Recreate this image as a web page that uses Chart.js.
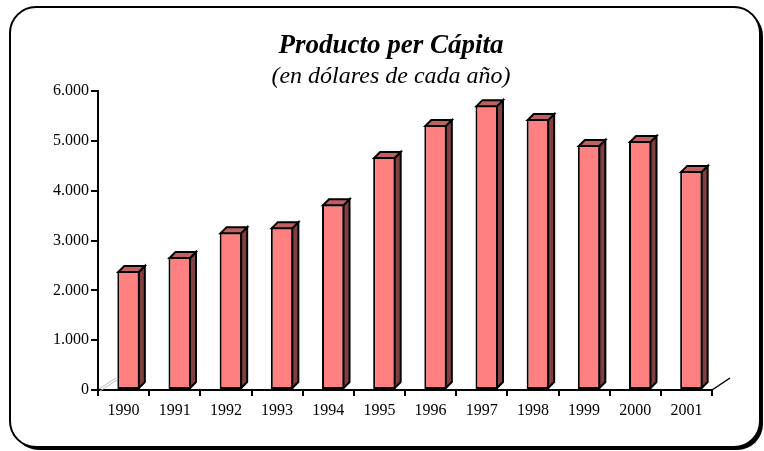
<!DOCTYPE html>
<html>
<head>
<meta charset="utf-8">
<script src="https://cdn.jsdelivr.net/npm/chart.js@4.4.1/dist/chart.umd.min.js"></script>
<style>
  html, body { margin: 0; padding: 0; background: #fff; }
  #wrap { width: 764px; height: 451px; position: relative; }
</style>
</head>
<body>
<div id="wrap"><canvas id="pibChart" width="764" height="451"></canvas></div>
<script>
const years = ['1990', '1991', '1992', '1993', '1994', '1995', '1996', '1997', '1998', '1999', '2000', '2001'];
const pibPerCapita = [2390, 2670, 3170, 3270, 3730, 4680, 5320, 5720, 5440, 4920, 5000, 4400];
const yTicks = [0, 1000, 2000, 3000, 4000, 5000, 6000];

const titleText = 'Producto per Cápita';
const subtitleText = '(en dólares de cada año)';

const SERIF = "'Liberation Serif', 'Times New Roman', serif";

// rounded frame with a hard drop shadow, like the old office chart
const framePlugin = {
  id: 'frame',
  beforeDraw: (chart) => {
    const { ctx } = chart;
    ctx.save();
    ctx.fillStyle = '#000';
    ctx.beginPath();
    ctx.roundRect(13, 10, 750, 440, 26);
    ctx.fill();
    ctx.fillStyle = '#fff';
    ctx.strokeStyle = '#000';
    ctx.lineWidth = 2;
    ctx.beginPath();
    ctx.roundRect(10, 7, 750, 440, 26);
    ctx.fill();
    ctx.stroke();
    ctx.restore();
  }
};

// fake 3D: shift the front faces a bit, then add top and side faces
const DX = 6, DY = 6, SHIFT = 5;
const bars3dPlugin = {
  id: 'bars3d',
  beforeDatasetsDraw: (chart) => {
    const { ctx, chartArea } = chart;
    // floor edges
    ctx.save();
    ctx.strokeStyle = '#000';
    ctx.lineWidth = 1.5;
    ctx.beginPath();
    ctx.moveTo(chartArea.right, chartArea.bottom);
    ctx.lineTo(chartArea.right + 18, chartArea.bottom - 12);
    ctx.stroke();
    ctx.strokeStyle = '#bbb';
    ctx.lineWidth = 1;
    ctx.beginPath();
    ctx.moveTo(chartArea.left + 1, chartArea.bottom - 1);
    ctx.lineTo(chartArea.left + 18, chartArea.bottom - 12);
    ctx.moveTo(chartArea.left + 2, chartArea.bottom + 1);
    ctx.lineTo(chartArea.left + 19, chartArea.bottom - 10);
    ctx.stroke();
    ctx.restore();

    ctx.save();
    ctx.translate(SHIFT, 0);
  },
  afterDatasetsDraw: (chart) => {
    const { ctx } = chart;
    const meta = chart.getDatasetMeta(0);
    ctx.lineWidth = 2;
    ctx.lineJoin = 'miter';
    ctx.strokeStyle = '#000';
    meta.data.forEach((bar) => {
      const { x, y, base, width } = bar.getProps(['x', 'y', 'base', 'width'], true);
      const left = x - width / 2 + 1;
      const right = x + width / 2 - 1;
      const top = y + 1;
      const bottom = base - 1;

      ctx.fillStyle = '#804040';
      ctx.beginPath();
      ctx.moveTo(right, top);
      ctx.lineTo(right + DX, top - DY);
      ctx.lineTo(right + DX, bottom - DY);
      ctx.lineTo(right, bottom);
      ctx.closePath();
      ctx.fill();
      ctx.stroke();

      ctx.fillStyle = '#c06060';
      ctx.beginPath();
      ctx.moveTo(left, top);
      ctx.lineTo(left + DX, top - DY);
      ctx.lineTo(right + DX, top - DY);
      ctx.lineTo(right, top);
      ctx.closePath();
      ctx.fill();
      ctx.stroke();
    });
    ctx.restore();
  }
};

const chartCtx = document.getElementById('pibChart').getContext('2d');

const pibChart = new Chart(chartCtx, {
  type: 'bar',
  data: {
    labels: years,
    datasets: [{
      label: 'Producto per cápita',
      data: pibPerCapita,
      backgroundColor: '#ff8080',
      borderColor: '#000',
      borderWidth: 2,
      borderSkipped: false,
      barPercentage: 0.44,
      categoryPercentage: 1
    }]
  },
  options: {
    responsive: false,
    animation: false,
    events: [],
    layout: {
      padding: { top: 30, left: 32, right: 14, bottom: 0 }
    },
    scales: {
      x: {
        offset: true,
        grid: {
          offset: true,
          drawOnChartArea: false,
          drawTicks: true,
          tickLength: 6,
          color: '#000',
          lineWidth: 2
        },
        border: { display: true, color: '#000', width: 2 },
        ticks: {
          color: '#000',
          padding: 5,
          maxRotation: 0,
          font: { family: SERIF, size: 16 }
        },
        afterFit: (scale) => { scale.height = 61; }
      },
      y: {
        min: 0,
        max: 6000,
        afterBuildTicks: (scale) => {
          scale.ticks = yTicks.map(v => ({ value: v }));
        },
        grid: {
          drawOnChartArea: false,
          drawTicks: true,
          tickLength: 7,
          color: '#000',
          lineWidth: 2
        },
        border: { display: true, color: '#000', width: 2 },
        ticks: {
          color: '#000',
          padding: 2,
          font: { family: SERIF, size: 16 },
          callback: (value) => String(value).replace(/\B(?=(\d{3})+(?!\d))/g, '.')
        },
        afterFit: (scale) => { scale.width = 66; }
      },
      // empty right axis, only keeps room for the floor edge
      yRight: {
        position: 'right',
        grid: { display: false },
        border: { display: false },
        ticks: { display: false },
        afterFit: (scale) => { scale.width = 38; }
      }
    },
    plugins: {
      legend: { display: false },
      tooltip: { enabled: false },
      title: {
        display: true,
        text: titleText,
        color: '#000',
        padding: { top: 0, bottom: 0 },
        font: { family: SERIF, size: 27, style: 'italic', weight: 'bold' }
      },
      subtitle: {
        display: true,
        text: subtitleText,
        color: '#000',
        padding: { top: 0, bottom: 0 },
        font: { family: SERIF, size: 24, style: 'italic' }
      }
    }
  },
  plugins: [framePlugin, bars3dPlugin]
});
</script>
</body>
</html>
